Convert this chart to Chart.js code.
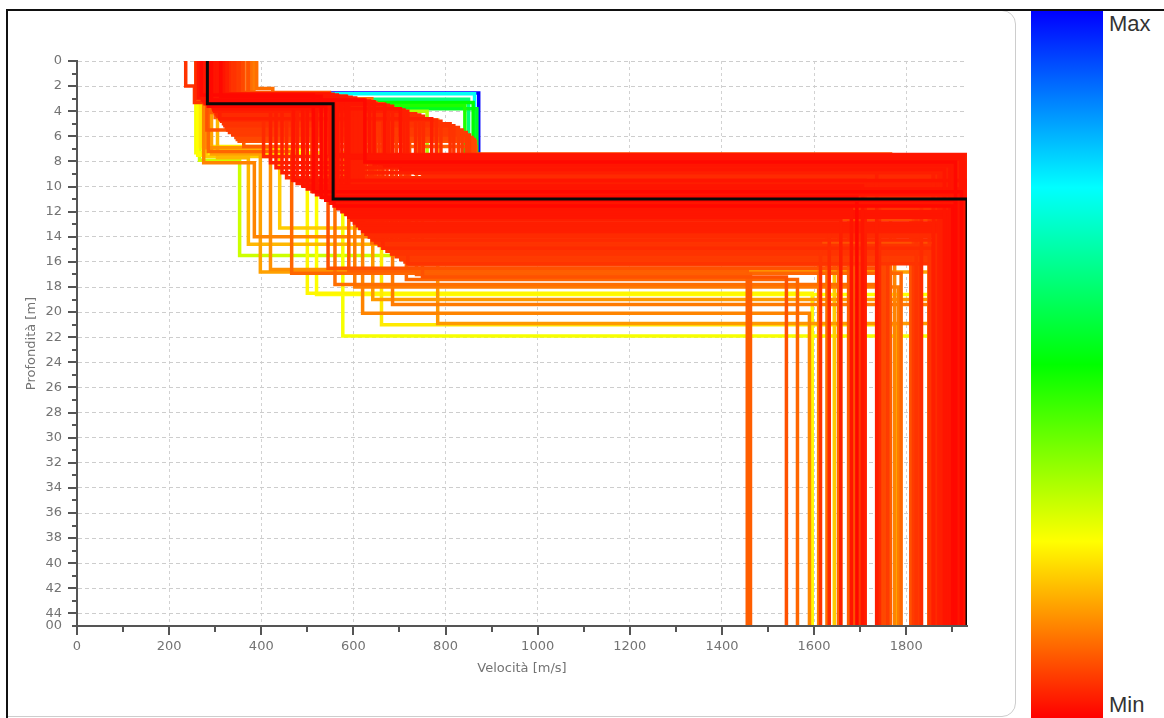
<!DOCTYPE html>
<html>
<head>
<meta charset="utf-8">
<script src="https://cdn.jsdelivr.net/npm/chart.js@4.4.0/dist/chart.umd.min.js"></script>
<style>
  body { margin: 0; width: 1164px; height: 718px; overflow: hidden; position: relative; background: #fff; font-family: "Liberation Sans", Arial, sans-serif; }
  #panel { position: absolute; left: 7px; top: 10px; width: 1007px; height: 705px; border: 1px solid #cdcdcd; border-radius: 0 14px 14px 0; }
  #chartBox { position: absolute; left: 0; top: 0; width: 1010px; height: 718px; }
  #frame { position: absolute; left: 6px; top: 9px; right: -4px; bottom: -4px; border-top: 2px solid #111; border-left: 2px solid #111; }
  #cbar { position: absolute; left: 1031px; top: 11px; width: 72px; height: 707px;
          background: linear-gradient(to top, #ff0000 0%, #ffff00 25%, #00ff00 50%, #00ffff 75%, #0000ff 100%); }
  .cl { position: absolute; left: 1109px; font-size: 22px; line-height: 22px; color: #333; }
</style>
</head>
<body>
<div id="panel"></div>
<div id="chartBox"><canvas id="profiles" width="1010" height="718"></canvas></div>
<div id="cbar"></div>
<div class="cl" style="top:13px">Max</div>
<div class="cl" style="top:694px">Min</div>
<div id="frame"></div>
<script>
// axis ranges and ticks
const velMax = 1932
const depthMax = 45
const xTicks = [0, 100, 200, 300, 400, 500, 600, 700, 800, 900, 1000, 1100, 1200, 1300, 1400, 1500, 1600, 1700, 1800, 1900]
const xLabelled = [0, 200, 400, 600, 800, 1000, 1200, 1400, 1600, 1800]
const yTicks = [0, 1, 2, 3, 4, 5, 6, 7, 8, 9, 10, 11, 12, 13, 14, 15, 16, 17, 18, 19, 20, 21, 22,
                23, 24, 25, 26, 27, 28, 29, 30, 31, 32, 33, 34, 35, 36, 37, 38, 39, 40, 41, 42, 43, 44, 45]
const yLabelled = [0, 2, 4, 6, 8, 10, 12, 14, 16, 18, 20, 22, 24, 26, 28, 30, 32, 34, 36, 38, 40, 42, 44]

// best model (black)
const bestVs = [283, 556, 1932]
const bestDepths = [3.4, 11.0]

// velocity of each layer [m/s], top to halfspace
const profileVs = [
  [268, 548, 1932], [272, 565, 1925], [276, 585, 1919], [280, 605, 1913], [284, 625, 1907],
  [287, 645, 1901], [290, 668, 1895], [293, 685, 1889], [296, 702, 1883], [299, 718, 1877],
  [302, 735, 1871], [306, 752, 1865], [310, 770, 1859], [314, 790, 1850], [318, 810, 1833],
  [324, 828, 1828], [331, 845, 1822], [345, 858, 1816], [352, 865, 1810], [362, 866, 1766],
  [270, 556, 1925], [278, 595, 1871], [285, 635, 1919], [291, 676, 1859], [297, 710, 1913],
  [304, 744, 1833], [312, 780, 1907], [321, 818, 1822], [327, 836, 1901], [338, 852, 1816],
  [348, 862, 1895],
  [262, 405, 1742], [268, 420, 1931], [275, 432, 1736], [282, 445, 1919],
  [258, 455, 1931], [300, 468, 1711], [266, 478, 1925], [305, 490, 1705], [272, 500, 1919],
  [340, 510, 1699], [278, 520, 1913], [312, 530, 1693], [285, 540, 1907], [355, 548, 1687],
  [292, 558, 1901], [318, 566, 1681], [296, 575, 1895], [362, 583, 1675], [300, 590, 1889],
  [325, 596, 1658], [304, 602, 1883], [370, 608, 1653], [308, 614, 1877], [330, 620, 1633],
  [314, 627, 1871], [378, 634, 1628], [320, 641, 1865], [335, 648, 1614], [324, 656, 1859],
  [384, 664, 1610], [328, 673, 1853], [345, 683, 1760], [332, 693, 1931], [350, 703, 1754],
  [338, 712, 1925], [358, 722, 1748],
  [264, 470, 1932], [294, 492, 1926], [270, 513, 1920], [316, 533, 1914], [281, 550, 1908],
  [342, 568, 1902], [289, 584, 1896], [360, 597, 1890], [302, 609, 1884], [326, 621, 1878],
  [311, 635, 1872], [372, 649, 1866], [318, 664, 1860], [336, 683, 1932], [352, 703, 1926],
  [330, 718, 1920],
  [258, 577, 1850], [266, 353, 1850], [275, 385, 1775], [280, 440, 1644], [285, 466, 1789],
  [272, 500, 1596], [262, 520, 1850], [290, 603, 1783], [295, 620, 1590], [300, 642, 1850],
  [268, 661, 1778], [305, 685, 1850], [310, 715, 1564], [300, 737, 1462], [315, 783, 1850],
  [296, 560, 1742], [288, 590, 1455], [282, 545, 1736], [312, 750, 1540],
  [280, 420, 1736], [292, 398, 1850], [305, 372, 1658],
  [300, 872, 1932], [290, 863, 1932], [295, 860, 1932], [300, 842, 1932], [305, 868, 1932],
  [310, 850, 1932], [298, 760, 1900],
  [236, 255, 560, 1925], [390, 425, 640, 1850]
]

// depth of the bottom of each layer [m]
const profileDepths = [
  [2.6, 7.45], [2.7, 7.6], [2.8, 7.75], [2.95, 7.9], [3.1, 8.05],
  [3.25, 8.2], [3.45, 8.35], [3.6, 8.5], [3.8, 8.65], [4.0, 8.8],
  [4.2, 8.95], [4.4, 9.1], [4.6, 7.5], [4.8, 7.7], [5.0, 7.85],
  [5.3, 8.0], [5.7, 8.15], [6.1, 8.3], [6.4, 7.55], [6.8, 7.4],
  [2.65, 7.5], [2.88, 7.65], [3.18, 7.8], [3.52, 7.95], [3.9, 8.1],
  [4.3, 8.25], [4.7, 8.4], [5.15, 8.55], [5.5, 8.7], [5.9, 8.85],
  [6.25, 9.0],
  [3.0, 7.6], [2.8, 8.1], [3.2, 8.5], [2.9, 8.9],
  [3.0, 9.3], [3.3, 9.5], [2.9, 9.75], [3.5, 9.95], [3.1, 10.2],
  [2.6, 10.4], [3.4, 10.65], [2.8, 10.85], [3.6, 11.1], [2.5, 11.3],
  [3.2, 11.55], [3.0, 11.75], [3.7, 12.0], [2.8, 12.2], [3.1, 12.45],
  [3.4, 12.65], [3.0, 12.9], [3.1, 13.1], [3.5, 13.35], [3.2, 13.55],
  [3.3, 13.8], [3.2, 14.0], [3.6, 14.25], [3.4, 14.45], [3.5, 14.7],
  [3.4, 14.9], [3.6, 15.15], [3.7, 15.35], [3.8, 15.6], [3.9, 15.8],
  [4.1, 16.0], [4.2, 16.25],
  [2.9, 9.52], [3.3, 9.97], [2.7, 10.42], [3.5, 10.87], [3.1, 11.32],
  [2.8, 11.77], [3.2, 12.22], [3.0, 12.67], [3.3, 13.12], [3.1, 13.57],
  [3.4, 14.02], [3.3, 14.47], [3.6, 14.92], [3.8, 15.37], [4.0, 15.8],
  [4.2, 16.15],
  [7.3, 21.9], [7.9, 15.5], [8.1, 14.0], [7.6, 13.3], [7.2, 16.9],
  [7.0, 18.5], [7.5, 18.6], [4.0, 18.0], [3.8, 20.1], [4.2, 19.0],
  [6.8, 21.0], [3.7, 19.4], [4.2, 17.4], [4.5, 17.0], [4.7, 20.9],
  [3.7, 17.8], [4.1, 16.7], [5.5, 16.5], [4.5, 17.2],
  [6.9, 16.6], [7.4, 16.8], [7.7, 14.6],
  [2.55, 7.6], [2.6, 7.5], [3.3, 7.8], [3.55, 8.0], [3.8, 7.9],
  [3.05, 7.7], [4.0, 8.2],
  [2.0, 3.3, 11.2], [2.2, 3.0, 14.5]
]

// relative misfit, 0 = Min (red) ... 1 = Max (blue)
const profileMisfit = [
  0.03, 0.02, 0.02, 0.03, 0.01, 0.02, 0.02, 0.03, 0.02, 0.03,
  0.04, 0.04, 0.03, 0.05, 0.05, 0.06, 0.06, 0.07, 0.08, 0.09,
  0.02, 0.03, 0.02, 0.03, 0.03, 0.04, 0.04, 0.05, 0.06, 0.06,
  0.07,
  0.04, 0.03, 0.03, 0.03,
  0.04, 0.03, 0.03, 0.02, 0.02, 0.06, 0.02, 0.01, 0.01, 0.08,
  0.01, 0.02, 0.02, 0.09, 0.02, 0.03, 0.03, 0.10, 0.03, 0.04,
  0.04, 0.11, 0.04, 0.05, 0.05, 0.12, 0.05, 0.06, 0.06, 0.07,
  0.06, 0.07,
  0.02, 0.03, 0.01, 0.04, 0.02, 0.05, 0.02, 0.07, 0.03, 0.03,
  0.04, 0.08, 0.04, 0.05, 0.06, 0.05,
  0.26, 0.30, 0.13, 0.20, 0.10, 0.24, 0.25, 0.12, 0.13, 0.15,
  0.23, 0.12, 0.10, 0.09, 0.15, 0.11, 0.09, 0.08, 0.08,
  0.14, 0.16, 0.18,
  1.00, 0.74, 0.50, 0.47, 0.53, 0.62, 0.33,
  0.05, 0.11
]

//misfit -> colour of the scale bar (red, yellow, green, cyan, blue)
function misfitColour(t) {
    return `hsl(${Math.round(240 * t)}, 100%, 50%)`
}

//corner points of a layered profile
function stepPoints(vs, deps) {
    let pts = [], top = 0
    for (let i = 0; i < vs.length; i++) {
        let bottom = i < deps.length ? deps[i] : depthMax
        pts.push({ x: vs[i], y: top }, { x: vs[i], y: bottom })
        top = bottom
    }
    return pts
}

let datasets = profileVs.map((vs, i) => ({
    data: stepPoints(vs, profileDepths[i]),
    borderColor: misfitColour(profileMisfit[i]),
    borderWidth: 3.5,
    order: 1 + profileMisfit[i]
}))
datasets.push({
    data: stepPoints(bestVs, bestDepths),
    borderColor: '#0a0a0a',
    borderWidth: 3,
    order: 0
})

//axis lines and the long/short tick marks
const axisMarks = {
    id: 'axisMarks',
    afterDatasetsDraw(chart) {
        const { ctx, chartArea, scales: { x, y } } = chart
        ctx.save()
        ctx.strokeStyle = '#555'
        ctx.lineWidth = 2
        ctx.beginPath()
        ctx.moveTo(chartArea.left, chartArea.top - 1)
        ctx.lineTo(chartArea.left, chartArea.bottom)
        ctx.lineTo(chartArea.right, chartArea.bottom)
        xTicks.forEach(v => {
            let px = Math.round(x.getPixelForValue(v))
            let len = v % 200 == 0 ? 9 : 6
            ctx.moveTo(px, chartArea.bottom)
            ctx.lineTo(px, chartArea.bottom + len)
        })
        yTicks.forEach(v => {
            let py = Math.round(y.getPixelForValue(v))
            let len = v % 2 == 0 ? 9 : 5
            ctx.moveTo(chartArea.left, py)
            ctx.lineTo(chartArea.left - len, py)
        })
        ctx.stroke()
        ctx.restore()
    }
}

const labelFont = { family: 'DejaVu Sans', size: 13 }

new Chart(document.getElementById('profiles'), {
    type: 'line',
    data: { datasets: datasets },
    options: {
        responsive: false,
        animation: false,
        layout: { padding: { left: 0, top: 61, right: 43, bottom: 32 } },
        elements: {
            point: { radius: 0 },
            line: { tension: 0, fill: false, borderJoinStyle: 'miter' }
        },
        plugins: { legend: { display: false }, tooltip: { enabled: false } },
        scales: {
            x: {
                type: 'linear',
                min: 0,
                max: velMax,
                afterBuildTicks: s => { s.ticks = xTicks.map(v => ({ value: v })) },
                afterFit: s => { s.height = 60 },
                ticks: {
                    autoSkip: false, maxRotation: 0, padding: 13, color: '#737373', font: labelFont,
                    callback: v => xLabelled.includes(v) ? String(v) : ''
                },
                grid: {
                    drawTicks: false,
                    lineWidth: 1,
                    color: c => (c.tick && c.tick.value > 0 && c.tick.value % 200 == 0) ? '#d2d2d2' : 'rgba(0,0,0,0)'
                },
                border: { display: true, color: '#555', width: 2, dash: [3, 3] },
                title: { display: true, text: 'Velocità [m/s]', color: '#737373', font: labelFont, padding: { top: 0, bottom: 10 } }
            },
            y: {
                type: 'linear',
                reverse: true,
                min: 0,
                max: depthMax,
                afterBuildTicks: s => { s.ticks = yTicks.map(v => ({ value: v })) },
                afterFit: s => { s.width = 77 },
                ticks: {
                    autoSkip: false, padding: 15, color: '#737373', font: labelFont,
                    callback: v => v == depthMax ? '00' : (yLabelled.includes(v) ? String(v) : '')
                },
                grid: {
                    drawTicks: false,
                    lineWidth: 1,
                    color: c => (c.tick && c.tick.value % 2 == 0 && c.tick.value < depthMax) ? '#cdcdcd' : 'rgba(0,0,0,0)'
                },
                border: { display: true, color: '#555', width: 2, dash: [4, 3] },
                title: { display: true, text: 'Profondità [m]', color: '#737373', font: labelFont, padding: { top: 24, bottom: 0 } }
            }
        }
    },
    plugins: [axisMarks]
})
</script>
</body>
</html>
